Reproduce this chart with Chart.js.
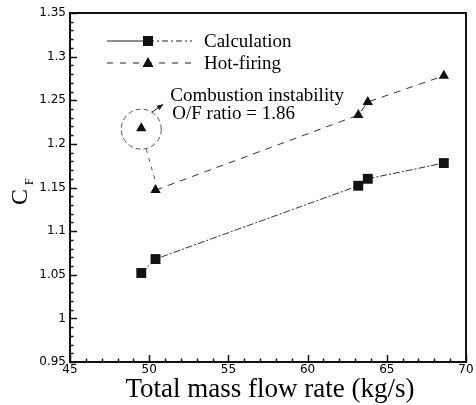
<!DOCTYPE html>
<html>
<head>
<meta charset="utf-8">
<script src="https://cdn.jsdelivr.net/npm/chart.js@4/dist/chart.umd.min.js"></script>
<style>
  html, body { margin: 0; padding: 0; background: #fff; }
  canvas { display: block; }
</style>
</head>
<body>
<canvas id="cf" width="476" height="405"></canvas>
<script>
"use strict";

// values
var flowCalc = [49.5, 50.4, 63.2, 63.8, 68.6];
var cfCalc = [1.052, 1.068, 1.152, 1.160, 1.178];
var flowHot = [49.5, 50.4, 63.2, 63.8, 68.6];
var cfHot = [1.218, 1.147, 1.233, 1.248, 1.278];

var xTicks = [45, 50, 55, 60, 65, 70];
var yTicks = [0.95, 1, 1.05, 1.1, 1.15, 1.2, 1.25, 1.3, 1.35];

var legendLabels = ["Calculation", "Hot-firing"];
var noteLines = ["Combustion instability", "O/F ratio = 1.86"];
var xTitle = "Total mass flow rate (kg/s)";

function pairs(xs, ys) {
  return xs.map(function(x, i) { return { x: x, y: ys[i] }; });
}

var SERIF = "'Liberation Serif', 'Times New Roman', serif";
var INK = "#111";

var decorPlugin = {
  id: "decor",
  afterDraw: function(chart) {
    var ctx = chart.ctx;
    var a = chart.chartArea;
    var xs = chart.scales.x;
    var ys = chart.scales.y;
    var v;

    ctx.save();

    // inward ticks, major and minor
    ctx.strokeStyle = INK;
    ctx.lineWidth = 1.5;
    ctx.beginPath();
    for (v = 45; v <= 70.001; v += 1) {
      var px = Math.round(xs.getPixelForValue(v)) + 0.5;
      var len = (Math.round(v) % 5 === 0) ? 7 : 3.5;
      ctx.moveTo(px, a.bottom);
      ctx.lineTo(px, a.bottom - len);
    }
    for (v = 95; v <= 135; v += 1) {
      var py = Math.round(ys.getPixelForValue(v / 100)) + 0.5;
      var ylen = (v % 5 === 0) ? 7 : 3.5;
      ctx.moveTo(a.left, py);
      ctx.lineTo(a.left + ylen, py);
    }
    ctx.stroke();

    // frame
    ctx.lineWidth = 2;
    ctx.strokeRect(a.left, a.top, a.right - a.left, a.bottom - a.top);

    // legend
    var lx0 = a.left + 37, lx1 = a.left + 122, lmark = a.left + 78;
    var ly1 = a.top + 28, ly2 = a.top + 50;
    ctx.lineWidth = 1;
    ctx.strokeStyle = "#222";
    ctx.beginPath();
    ctx.moveTo(lx0, ly1);
    ctx.lineTo(lmark, ly1);
    ctx.stroke();
    ctx.setLineDash([6, 3, 2, 3]);
    ctx.beginPath();
    ctx.moveTo(lmark, ly1);
    ctx.lineTo(lx1, ly1);
    ctx.stroke();
    ctx.setLineDash([6, 7]);
    ctx.beginPath();
    ctx.moveTo(lx0, ly2);
    ctx.lineTo(lx1, ly2);
    ctx.stroke();
    ctx.setLineDash([]);
    ctx.fillStyle = INK;
    ctx.fillRect(lmark - 5, ly1 - 5, 10, 10);
    ctx.beginPath();
    ctx.moveTo(lmark, ly2 - 6);
    ctx.lineTo(lmark + 5.5, ly2 + 4);
    ctx.lineTo(lmark - 5.5, ly2 + 4);
    ctx.closePath();
    ctx.fill();
    ctx.fillStyle = "#000";
    ctx.font = "19px " + SERIF;
    ctx.textBaseline = "alphabetic";
    ctx.textAlign = "left";
    ctx.fillText(legendLabels[0], lx1 + 12, ly1 + 6);
    ctx.fillText(legendLabels[1], lx1 + 12, ly2 + 6);

    // annotation around the unstable hot-firing point
    var cx = xs.getPixelForValue(flowHot[0]);
    var cy = ys.getPixelForValue(cfHot[0]) + 1;
    var r = 20;
    var nx = xs.getPixelForValue(flowHot[1]);
    var ny = ys.getPixelForValue(cfHot[1]);
    ctx.strokeStyle = "#555";
    ctx.lineWidth = 1;
    ctx.setLineDash([5, 3]);
    ctx.beginPath();
    ctx.arc(cx, cy, r, 0, Math.PI * 2);
    ctx.stroke();
    ctx.setLineDash([4, 5]);
    ctx.beginPath();
    ctx.moveTo(cx + 5, cy + r);
    ctx.lineTo(nx, ny - 8);
    ctx.stroke();
    ctx.setLineDash([]);

    // arrow to the note
    var ang = -58 * Math.PI / 180;
    var sx = cx + r * Math.cos(ang), sy = cy + r * Math.sin(ang);
    var tx = cx + 22, ty = cy - 25;
    ctx.strokeStyle = INK;
    ctx.beginPath();
    ctx.moveTo(sx, sy);
    ctx.lineTo(tx, ty);
    ctx.stroke();
    var da = Math.atan2(ty - sy, tx - sx);
    ctx.fillStyle = INK;
    ctx.beginPath();
    ctx.moveTo(tx, ty);
    ctx.lineTo(tx - 7 * Math.cos(da - 0.4), ty - 7 * Math.sin(da - 0.4));
    ctx.lineTo(tx - 7 * Math.cos(da + 0.4), ty - 7 * Math.sin(da + 0.4));
    ctx.closePath();
    ctx.fill();

    ctx.fillStyle = "#000";
    ctx.font = "19px " + SERIF;
    ctx.fillText(noteLines[0], cx + 29, cy - 28);
    ctx.fillText(noteLines[1], cx + 31, cy - 10);

    // axis titles
    ctx.font = "27px " + SERIF;
    ctx.textAlign = "center";
    ctx.fillText(xTitle, (a.left + a.right) / 2 + 2, 397);

    ctx.save();
    ctx.translate(27, 205);
    ctx.rotate(-Math.PI / 2);
    ctx.textAlign = "left";
    ctx.font = "24px " + SERIF;
    ctx.fillText("C", 0, 0);
    ctx.font = "12px " + SERIF;
    ctx.fillText("F", 20, 6);
    ctx.restore();

    ctx.restore();
  }
};

new Chart(document.getElementById("cf"), {
  type: "scatter",
  data: {
    datasets: [{
      label: legendLabels[0],
      data: pairs(flowCalc, cfCalc),
      showLine: true,
      borderColor: "#333",
      borderWidth: 1,
      borderDash: [7, 2, 2, 2],
      pointStyle: "rect",
      pointRadius: 7,
      pointBackgroundColor: INK,
      pointBorderColor: INK,
      pointBorderWidth: 0
    }, {
      label: legendLabels[1],
      data: pairs(flowHot, cfHot),
      showLine: true,
      borderColor: "#333",
      borderWidth: 1,
      borderDash: [7, 6],
      segment: {
        borderColor: function(c) { return c.p0DataIndex === 0 ? "rgba(0,0,0,0)" : "#333"; }
      },
      pointStyle: "triangle",
      pointRadius: 6,
      pointBackgroundColor: INK,
      pointBorderColor: INK,
      pointBorderWidth: 0
    }]
  },
  options: {
    responsive: false,
    animation: false,
    devicePixelRatio: 1,
    layout: { padding: { top: 13, right: 10, left: 0, bottom: 0 } },
    plugins: {
      legend: { display: false },
      tooltip: { enabled: false }
    },
    scales: {
      x: {
        type: "linear",
        min: 45,
        max: 70,
        afterBuildTicks: function(s) { s.ticks = xTicks.map(function(v) { return { value: v }; }); },
        afterFit: function(s) { s.height = 43; },
        grid: { display: false, drawTicks: false },
        border: { display: false },
        ticks: {
          padding: 1,
          color: "#000",
          font: { family: "'DejaVu Sans', sans-serif", size: 12 }
        }
      },
      y: {
        type: "linear",
        min: 0.95,
        max: 1.35,
        afterBuildTicks: function(s) { s.ticks = yTicks.map(function(v) { return { value: v }; }); },
        afterFit: function(s) { s.width = 70; },
        grid: { display: false, drawTicks: false },
        border: { display: false },
        ticks: {
          padding: 4,
          color: "#000",
          font: { family: "'DejaVu Sans', sans-serif", size: 12 },
          callback: function(v) { return String(Number(v.toFixed(2))); }
        }
      }
    }
  },
  plugins: [decorPlugin]
});
</script>
</body>
</html>
